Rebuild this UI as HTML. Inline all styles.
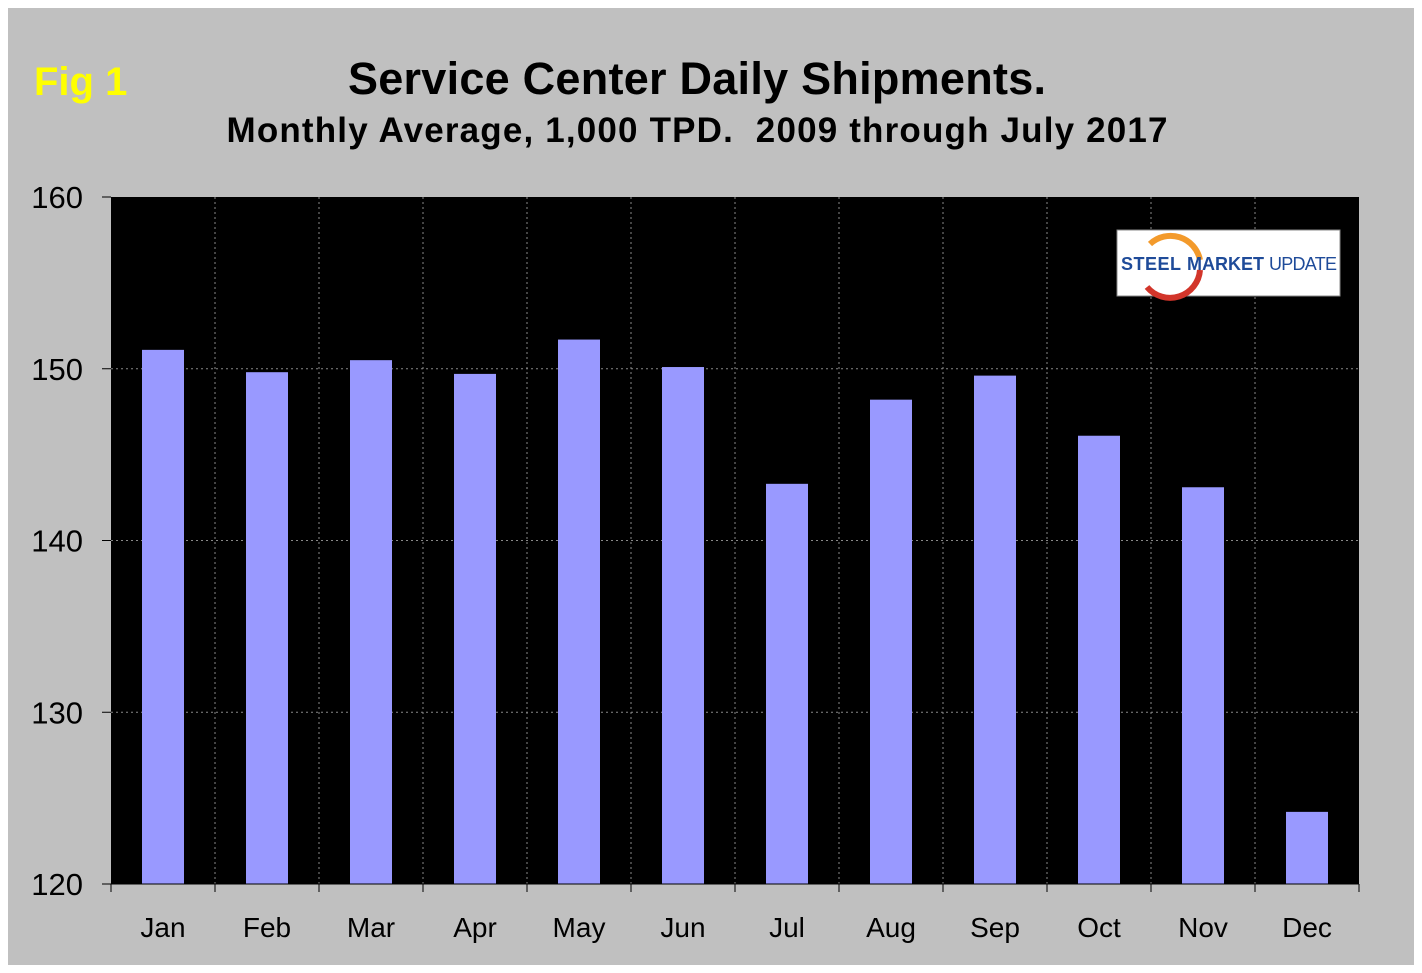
<!DOCTYPE html>
<html><head><meta charset="utf-8"><style>
body{margin:0;background:#fff;}
svg{display:block;font-family:"Liberation Sans",Arial,sans-serif;}
</style></head><body>
<svg width="1422" height="973">
<rect x="8" y="8" width="1406" height="957" fill="#c0c0c0"/>
<text x="34" y="95" font-size="40" font-weight="bold" fill="#ffff00">Fig 1</text>
<text x="697" y="94" font-size="45" font-weight="bold" text-anchor="middle" textLength="698">Service Center Daily Shipments.</text>
<text x="697" y="142" font-size="35" font-weight="bold" text-anchor="middle" textLength="941" style="white-space:pre">Monthly Average, 1,000 TPD.  2009 through July 2017</text>
<rect x="111" y="197" width="1248" height="687" fill="#000"/>
<g id="grid"></g><g id="bars"></g><g id="axes"></g>
<g>
<rect x="1117" y="230" width="223" height="66" fill="#fff" stroke="#888"/>
<path d="M1150 244 A30 30 0 0 1 1200 260" fill="none" stroke="#f39a2b" stroke-width="6"/>
<path d="M1200 270 A30 30 0 0 1 1147 287" fill="none" stroke="#d2352a" stroke-width="6"/>
<text x="1121" y="270" font-size="18" font-weight="bold" fill="#1f4b99" textLength="60">STEEL</text>
<text x="1187" y="270" font-size="18" font-weight="bold" fill="#1f4b99" textLength="77">MARKET</text>
<text x="1269" y="270" font-size="18" fill="#1f4b99" textLength="68">UPDATE</text>
</g>
</svg>
<script>
const months=["Jan","Feb","Mar","Apr","May","Jun","Jul","Aug","Sep","Oct","Nov","Dec"];
const values=[151.1,149.8,150.5,149.7,151.7,150.1,143.3,148.2,149.6,146.1,143.1,124.2];
const yTicks=[120,130,140,150,160];
const X0=111,X1=1359,Y0=884,Y1=197,yMin=120,yMax=160;
const bw=(X1-X0)/months.length;
const y=v=>Y0-(v-yMin)/(yMax-yMin)*(Y0-Y1);
const ns="http://www.w3.org/2000/svg";
function mk(t,a,p){const e=document.createElementNS(ns,t);for(const k in a)e.setAttribute(k,a[k]);p.appendChild(e);return e;}
const grid=document.getElementById('grid'),bars=document.getElementById('bars'),axes=document.getElementById('axes');
yTicks.forEach(t=>{
 if(t>yMin&&t<yMax){const l=mk('line',{x1:X0,x2:X1,y1:y(t),y2:y(t),stroke:'#888','stroke-dasharray':'2,3'},grid);
 
 }
 const tk=mk('line',{x1:X0-9,x2:X0,y1:y(t),y2:y(t),stroke:'#000'},axes);
 
 
 const tx=mk('text',{x:X0-28,y:y(t)+11,'font-size':31,'text-anchor':'end'},axes);tx.textContent=t;
 
 
});
months.forEach((m,i)=>{
 if(i>0){const g=mk('line',{x1:X0+i*bw,x2:X0+i*bw,y1:Y1,y2:Y0,stroke:'#888','stroke-dasharray':'2,3'},grid);
 
 }
 const cx=X0+(i+0.5)*bw;
 const r=mk('rect',{x:cx-21,y:y(values[i]),width:42,height:Y0-y(values[i]),fill:'#9999ff'},bars);
 
 
 const tk=mk('line',{x1:X0+i*bw,x2:X0+i*bw,y1:Y0,y2:Y0+8,stroke:'#000'},axes);
 
 
 const tx=mk('text',{x:cx,y:937,'font-size':28,'text-anchor':'middle'},axes);tx.textContent=m;
 
 
});
const xe=mk('line',{x1:X1,x2:X1,y1:Y0,y2:Y0+8,stroke:'#000'},axes);


const ax=mk('line',{x1:X0,x2:X1,y1:Y0,y2:Y0,stroke:'#000'},axes);


</script>
</body></html>
